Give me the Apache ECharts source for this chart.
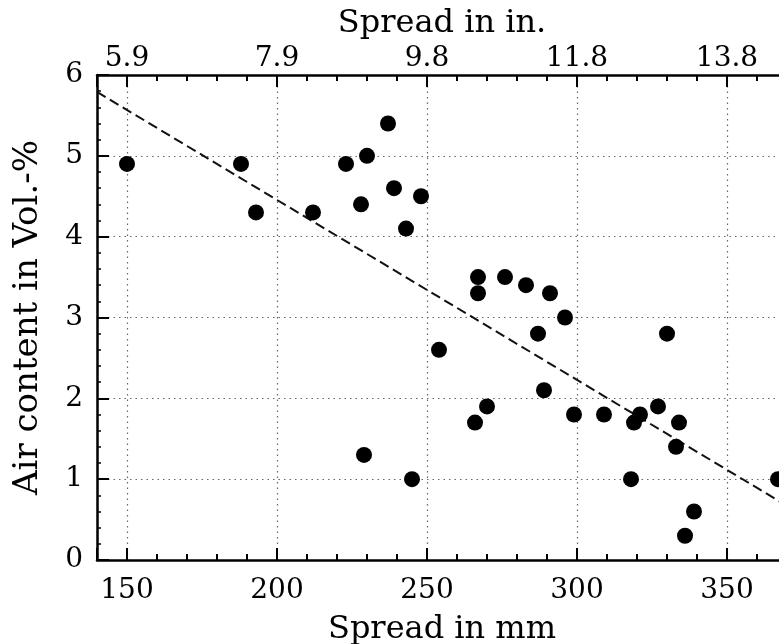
<!DOCTYPE html>
<html>
<head>
<meta charset="utf-8">
<script src="https://cdn.jsdelivr.net/npm/echarts@6/dist/echarts.min.js"></script>
<style>
html,body{margin:0;padding:0;background:#fff;}
#chart{width:779px;height:644px;}
</style>
</head>
<body>
<div id="chart"></div>
<script>
// Spread in mm (x) and air content in Vol.-% (y)
const spreadMm = [150, 188, 193, 212, 223, 230, 228, 237, 239, 248, 243, 229, 245, 254,
  267, 267, 276, 283, 291, 296, 287, 289, 270, 266, 299, 309,
  330, 321, 319, 327, 334, 333, 318, 339, 336, 367];
const airContent = [4.9, 4.9, 4.3, 4.3, 4.9, 5.0, 4.4, 5.4, 4.6, 4.5, 4.1, 1.3, 1.0, 2.6,
  3.5, 3.3, 3.5, 3.4, 3.3, 3.0, 2.8, 2.1, 1.9, 1.7, 1.8, 1.8,
  2.8, 1.8, 1.7, 1.9, 1.7, 1.4, 1.0, 0.6, 0.3, 1.0];
// Regression line end points [spread mm, air content]
const trendX = [140, 370];
const trendY = [5.79, 0.67];
const xMin = 140, xMax = 370;
const yMin = 0, yMax = 6;
const mmPerInch = 25.4;

const points = spreadMm.map((x, i) => [x, airContent[i]]);
const trend = trendX.map((x, i) => [x, trendY[i]]);

const FONT = 'DejaVu Serif';
const labelStyle = {color: '#000', fontFamily: FONT, fontSize: 28};
const nameStyle = {color: '#000', fontFamily: FONT, fontSize: 32};

const chart = echarts.init(document.getElementById('chart'), null, {renderer: 'canvas'});

function mainX(pos, idx) {
  return {
    type: 'value', position: pos, min: xMin, max: xMax, splitNumber: 5,
    axisLine: {show: true, onZero: false, lineStyle: {color: '#000', width: 2.5}},
    axisTick: {show: true, inside: true, length: 12, lineStyle: {color: '#000', width: 2}},
    minorTick: {show: true, splitNumber: 5, length: 6, lineStyle: {color: '#000', width: 2}},
    axisLabel: Object.assign({
      show: true, margin: pos === 'top' ? 2 : 17,
      showMinLabel: false, showMaxLabel: false,
      formatter: pos === 'top' ? (v => (v / mmPerInch).toFixed(1)) : (v => String(v))
    }, labelStyle),
    splitLine: {show: idx === 0, lineStyle: {color: '#666', type: [1.5, 4], width: 1.2}},
    name: pos === 'top' ? 'Spread in in.' : 'Spread in mm',
    nameLocation: 'middle',
    nameGap: pos === 'top' ? 31 : 54,
    nameTextStyle: nameStyle
  };
}

chart.setOption({
  animation: false,
  backgroundColor: '#fff',
  grid: {left: 97, top: 75, width: 690, height: 485, containLabel: false, outerBoundsMode: 'none'},
  xAxis: [mainX('bottom', 0), mainX('top', 1)],
  yAxis: [{
    type: 'value', min: yMin, max: yMax, interval: 1,
    axisLine: {show: true, onZero: false, lineStyle: {color: '#000', width: 2.5}},
    axisTick: {show: true, inside: true, length: 12, lineStyle: {color: '#000', width: 2}},
    minorTick: {show: true, splitNumber: 5, length: 4, lineStyle: {color: '#000', width: 1.5}},
    axisLabel: Object.assign({margin: 14}, labelStyle),
    splitLine: {show: true, lineStyle: {color: '#666', type: [1.5, 4], width: 1.2}},
    name: 'Air content in Vol.-%',
    nameLocation: 'middle',
    nameGap: 52,
    nameTextStyle: Object.assign({}, nameStyle, {fontSize: 34})
  }],
  series: [
    {
      type: 'line', data: trend, xAxisIndex: 0, yAxisIndex: 0,
      showSymbol: false, symbol: 'none', silent: true,
      lineStyle: {color: '#111', width: 2, type: [10, 5]}, z: 3
    },
    {
      type: 'scatter', data: points, xAxisIndex: 0, yAxisIndex: 0,
      symbol: 'circle', symbolSize: 16,
      itemStyle: {color: '#000', opacity: 1}, z: 4
    }
  ]
});
</script>
</body>
</html>
